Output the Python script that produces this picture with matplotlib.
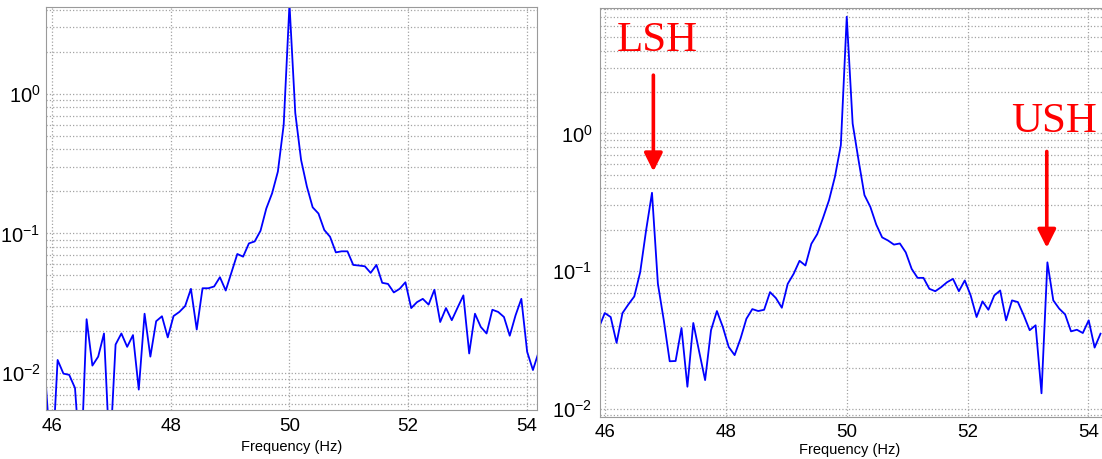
import numpy as np
import matplotlib
matplotlib.use("Agg")
import matplotlib.pyplot as plt
from matplotlib.ticker import LogLocator, NullFormatter, FixedLocator

plt.rcParams["font.family"] = ["Liberation Sans", "DejaVu Sans"]
plt.rcParams["mathtext.fontset"] = "custom"
plt.rcParams["mathtext.rm"] = "Liberation Sans"
plt.rcParams["mathtext.default"] = "regular"

# FFT bins: 0.09765625 Hz resolution, bins 470..555
FREQ_STEP = 100 / 1024
FIRST_BIN = 470

# spectrum magnitude, healthy case
spec_healthy = [
    0.0080, 0.0020, 0.0124, 0.0099, 0.0097, 0.0078, 0.0020, 0.0243, 0.0113, 0.0131,
    0.0192, 0.0025, 0.0160, 0.0192, 0.0154, 0.0187, 0.0076, 0.0266, 0.0131, 0.0235,
    0.0255, 0.0180, 0.0256, 0.0274, 0.0302, 0.0401, 0.0205, 0.0405, 0.0405, 0.0417,
    0.0486, 0.0390, 0.0527, 0.0713, 0.0682, 0.0849, 0.0877, 0.1045, 0.151, 0.194,
    0.278, 0.601, 4.4, 0.730, 0.337, 0.217, 0.154, 0.139, 0.106, 0.0947,
    0.0732, 0.0745, 0.0745, 0.0595, 0.0589, 0.0582, 0.0522, 0.0595, 0.0443, 0.0435,
    0.0378, 0.0401, 0.0447, 0.0292, 0.0322, 0.0340, 0.0309, 0.0395, 0.0232, 0.0292,
    0.0239, 0.0294, 0.0360, 0.0138, 0.0266, 0.0214, 0.0192, 0.0284, 0.0274, 0.0252,
    0.0185, 0.0259, 0.0340, 0.0142, 0.0105, 0.0142,
]

# spectrum magnitude, faulty case (sidebands LSH / USH)
spec_faulty = [
    0.0389, 0.0497, 0.0465, 0.0302, 0.0497, 0.0574, 0.0656, 0.0984, 0.198, 0.371,
    0.081, 0.0440, 0.0222, 0.0223, 0.0387, 0.0145, 0.0421, 0.0260, 0.0162, 0.0373,
    0.0514, 0.0394, 0.0282, 0.0246, 0.0324, 0.0452, 0.0531, 0.0514, 0.0525, 0.0705,
    0.0638, 0.0543, 0.081, 0.0957, 0.119, 0.110, 0.158, 0.186, 0.245, 0.328,
    0.485, 0.823, 7.03, 1.18, 0.640, 0.357, 0.293, 0.218, 0.176, 0.167,
    0.156, 0.159, 0.137, 0.104, 0.0895, 0.0895, 0.0745, 0.0716, 0.0766, 0.0832,
    0.0880, 0.0716, 0.0857, 0.0667, 0.0465, 0.0604, 0.0525, 0.0667, 0.0725, 0.0440,
    0.0614, 0.0597, 0.0478, 0.0373, 0.0405, 0.0130, 0.116, 0.0614, 0.0535, 0.0486,
    0.0366, 0.0376, 0.0356, 0.0440, 0.0279, 0.0352,
]

x_ticks = [46, 48, 50, 52, 54]
y_ticks = [1e-2, 1e-1, 1e0]

# sideband markers: (label, x, arrow top, arrow tip, text x, text y)
markers = [
    ("LSH", 46.80, 2.65, 0.53, 46.87, 4.0),
    ("USH", 53.31, 0.74, 0.148, 53.43, 1.02),
]

GRID_C = "#a3a3a3"
SPINE_C = "#9a9a9a"


def style_axes(ax, xlim, ylim, xpad, ypad):
    ax.set_yscale("log")
    ax.set_xlim(*xlim)
    ax.set_ylim(*ylim)
    ax.xaxis.set_major_locator(FixedLocator(x_ticks))
    ax.yaxis.set_major_locator(FixedLocator(y_ticks))
    ax.yaxis.set_minor_locator(LogLocator(base=10, subs=np.arange(2, 10), numticks=20))
    ax.yaxis.set_minor_formatter(NullFormatter())
    ax.grid(True, which="major", axis="both", color=GRID_C, ls=":", lw=0.9)
    ax.grid(True, which="minor", axis="y", color=GRID_C, ls=":", lw=0.9)
    ax.set_axisbelow(True)
    ax.tick_params(which="both", length=0)
    ax.tick_params(axis="x", labelsize=13.5, pad=xpad)
    ax.tick_params(axis="y", labelsize=14.5, pad=ypad)
    for s in ax.spines.values():
        s.set_color(SPINE_C)
        s.set_linewidth(0.8)


fig = plt.figure(figsize=(11.02, 4.59), dpi=100)

freq_h = (FIRST_BIN + np.arange(len(spec_healthy))) * FREQ_STEP
freq_f = (FIRST_BIN + np.arange(len(spec_faulty))) * FREQ_STEP

# left panel
ax1 = fig.add_axes([46 / 1102, 49 / 459, 491 / 1102, 403 / 459])
ax1.plot(freq_h, spec_healthy, color="#0000ff", lw=1.3)
style_axes(ax1, (45.898, 54.17), (0.00543, 4.2), 5.5, 4.0)
ax1.set_xlabel("Frequency (Hz)", fontsize=10.5)
ax1.xaxis.set_label_coords(0.5, -0.074)

# right panel (runs off the right edge)
ax2 = fig.add_axes([600 / 1102, 42.3 / 459, 506 / 1102, 408.7 / 459])
ax2.plot(freq_f, spec_faulty, color="#0000ff", lw=1.3)
style_axes(ax2, (45.917, 54.29), (0.00879, 8.14), 5.0, 5.5)
ax2.set_xlabel("Frequency (Hz)", fontsize=10.5)
ax2.xaxis.set_label_coords((850 - 600) / 506, -0.064)

for label, ax_x, top, tip, tx, ty in markers:
    ax2.annotate("", xy=(ax_x, tip), xytext=(ax_x, top),
                 arrowprops=dict(arrowstyle="-|>,head_length=1.1,head_width=0.55",
                                 mutation_scale=10, lw=2.6, color="#ff0000",
                                 shrinkA=0, shrinkB=0))
    ax2.text(tx, ty, label, color="#ff0000", fontsize=31,
             family=["Liberation Serif", "DejaVu Serif"], ha="center", va="baseline")

fig.savefig("out.png", dpi=100)
